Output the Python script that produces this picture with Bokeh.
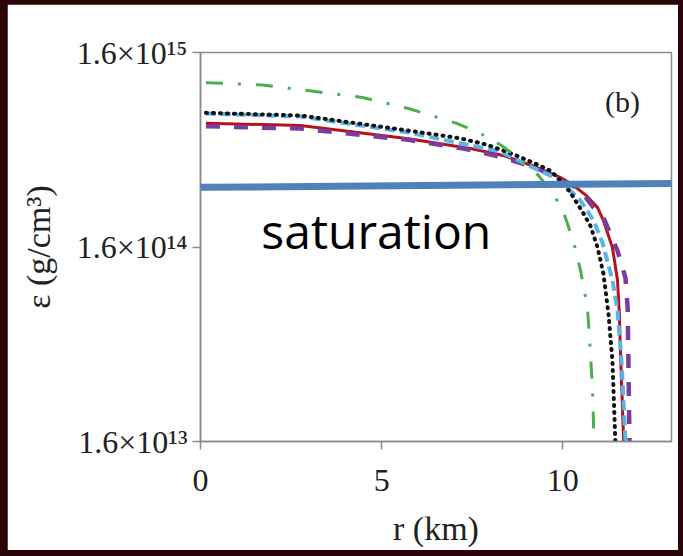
from bokeh.plotting import figure
from bokeh.layouts import column
from bokeh.models import Range1d, FixedTicker, Arrow, Label
from bokeh.embed import file_html
from bokeh.resources import INLINE

# ---- data ----
r_ticks = [0, 5, 10]
eps_ticks = [1.6e13, 1.6e14, 1.6e15]
eps_tick_labels = ["1.6×10¹³", "1.6×10¹⁴", "1.6×10¹⁵"]

green_r = [0.15, 1.71, 4.47, 5.74, 6.43, 7.09, 7.73, 8.31, 8.8, 9.33, 9.80, 10.07, 10.30, 10.49, 10.68, 10.74, 10.82, 10.86]
green_eps = [1.12e15, 1.09e15, 9.4e14, 8.24e14, 7.53e14, 6.9e14, 6.13e14, 5.32e14, 4.55e14, 3.73e14, 2.87e14, 2.27e14, 1.69e14, 1.21e14, 7.8e13, 5.3e13, 3.0e13, 1.6e13]

black_r = [0.15, 2.76, 5.74, 7.15, 7.89, 8.58, 9.30, 9.66, 9.88, 10.21, 10.57, 10.76, 10.96, 11.12, 11.26, 11.37, 11.45]
black_eps = [7.83e14, 7.59e14, 6.35e14, 5.8e14, 5.38e14, 4.84e14, 4.25e14, 3.95e14, 3.6e14, 3.05e14, 2.38e14, 2.06e14, 1.59e14, 1.17e14, 7.28e13, 4.17e13, 1.6e13]

red_r = [0.15, 2.76, 5.74, 7.45, 8.36, 9.30, 9.94, 10.30, 10.66, 10.96, 11.12, 11.37, 11.51, 11.56, 11.60, 11.68]
red_eps = [6.93e14, 6.74e14, 5.76e14, 5.13e14, 4.73e14, 4.1e14, 3.64e14, 3.31e14, 2.93e14, 2.55e14, 2.19e14, 1.59e14, 1.08e14, 7.28e13, 4.17e13, 1.6e13]

blue_r = [0.15, 2.76, 5.74, 8.28, 9.11, 9.90, 10.49, 10.85, 11.10, 11.37, 11.51, 11.62, 11.73]
blue_eps = [7.77e14, 7.5e14, 6.2e14, 4.95e14, 4.15e14, 3.55e14, 2.77e14, 2.19e14, 1.67e14, 1.08e14, 7.5e13, 4.17e13, 1.6e13]

purple_r = [0.15, 2.76, 5.74, 7.26, 8.36, 9.30, 10.00, 10.49, 10.85, 11.12, 11.51, 11.73, 11.79, 11.81, 11.84]
purple_eps = [6.68e14, 6.5e14, 5.69e14, 5.13e14, 4.62e14, 4.05e14, 3.55e14, 3.12e14, 2.55e14, 2.27e14, 1.53e14, 1.11e14, 7.8e13, 4.17e13, 1.6e13]

saturation_r = [-0.19, 13.33]
saturation_eps = [3.24e14, 3.40e14]

DARK = "#2a0407"
SERIF = "Liberation Serif"

fig = figure(width=671, height=546,
             x_range=Range1d(0, 13), y_range=Range1d(1.6e13, 1.6e15),
             y_axis_type="log", output_backend="svg", toolbar_location=None,
             min_border_left=193, min_border_right=7, min_border_top=48, min_border_bottom=109,
             background_fill_color="white", border_fill_color="white",
             outline_line_color="#8a8a8a", outline_line_width=1.5)
fig.margin = (4, 5, 6, 7)
fig.grid.visible = False

# axes
fig.xaxis.ticker = FixedTicker(ticks=r_ticks)
fig.yaxis.ticker = FixedTicker(ticks=eps_ticks)
fig.yaxis.major_label_overrides = {t: s for t, s in zip(eps_ticks, eps_tick_labels)}
for ax in (fig.xaxis, fig.yaxis):
    ax.axis_line_color = "#8a8a8a"
    ax.axis_line_width = 1.5
    ax.major_tick_line_color = "#8a8a8a"
    ax.major_tick_line_width = 1.5
    ax.major_tick_in = 0
    ax.major_tick_out = 8
    ax.minor_tick_line_color = None
    ax.major_label_text_font = SERIF
    ax.major_label_text_font_size = "32px"
    ax.major_label_text_color = "#222222"
    ax.axis_label_text_font = SERIF
    ax.axis_label_text_font_size = "34px"
    ax.axis_label_text_font_style = "normal"
    ax.axis_label_text_color = "#222222"
fig.xaxis.axis_label = "r (km)"
fig.yaxis.axis_label = "ε (g/cm³)"
fig.xaxis.major_label_standoff = 20
fig.xaxis.axis_label_standoff = 16
fig.yaxis.major_label_standoff = 5
fig.yaxis.major_label_text_baseline = "top"
fig.yaxis.axis_label_standoff = 17

# curves
fig.line(red_r, red_eps, line_color="#b5121b", line_width=3)
fig.line(purple_r, purple_eps, line_color="#7a3c9e", line_width=4.5, line_dash="14 14")
fig.line(blue_r, blue_eps, line_color="#5ab4e6", line_width=4, line_dash="10 5")
fig.line(black_r, black_eps, line_color="#111111", line_width=4, line_dash="1 6", line_cap="round")
fig.line(green_r, green_eps, line_color="#4cae4f", line_width=3, line_dash="17 15 3 15")

# texts
fig.add_layout(Label(x=11.65, y=8.95e14, text="(b)", text_font=SERIF, text_font_size="30px",
                     text_color="#222222", text_align="center", text_baseline="middle"))
fig.add_layout(Label(x=1.68, y=1.95e14, text="saturation", text_font="Open Sans",
                     text_font_size="48px", text_color="black", text_baseline="alphabetic"))
fig.add_layout(Label(x=-4.2, y=1.6e13, text=":", text_font=SERIF, text_font_size="24px",
                     text_color="#555555", text_align="center", text_baseline="middle"))

# saturation line (overlay)
fig.add_layout(Arrow(end=None, x_start=saturation_r[0], y_start=saturation_eps[0],
                     x_end=saturation_r[1], y_end=saturation_eps[1],
                     line_color="#4f81bd", line_width=7))

p = column(fig, styles={"background-color": DARK})

open("out.html", "w").write(file_html(p, INLINE))
